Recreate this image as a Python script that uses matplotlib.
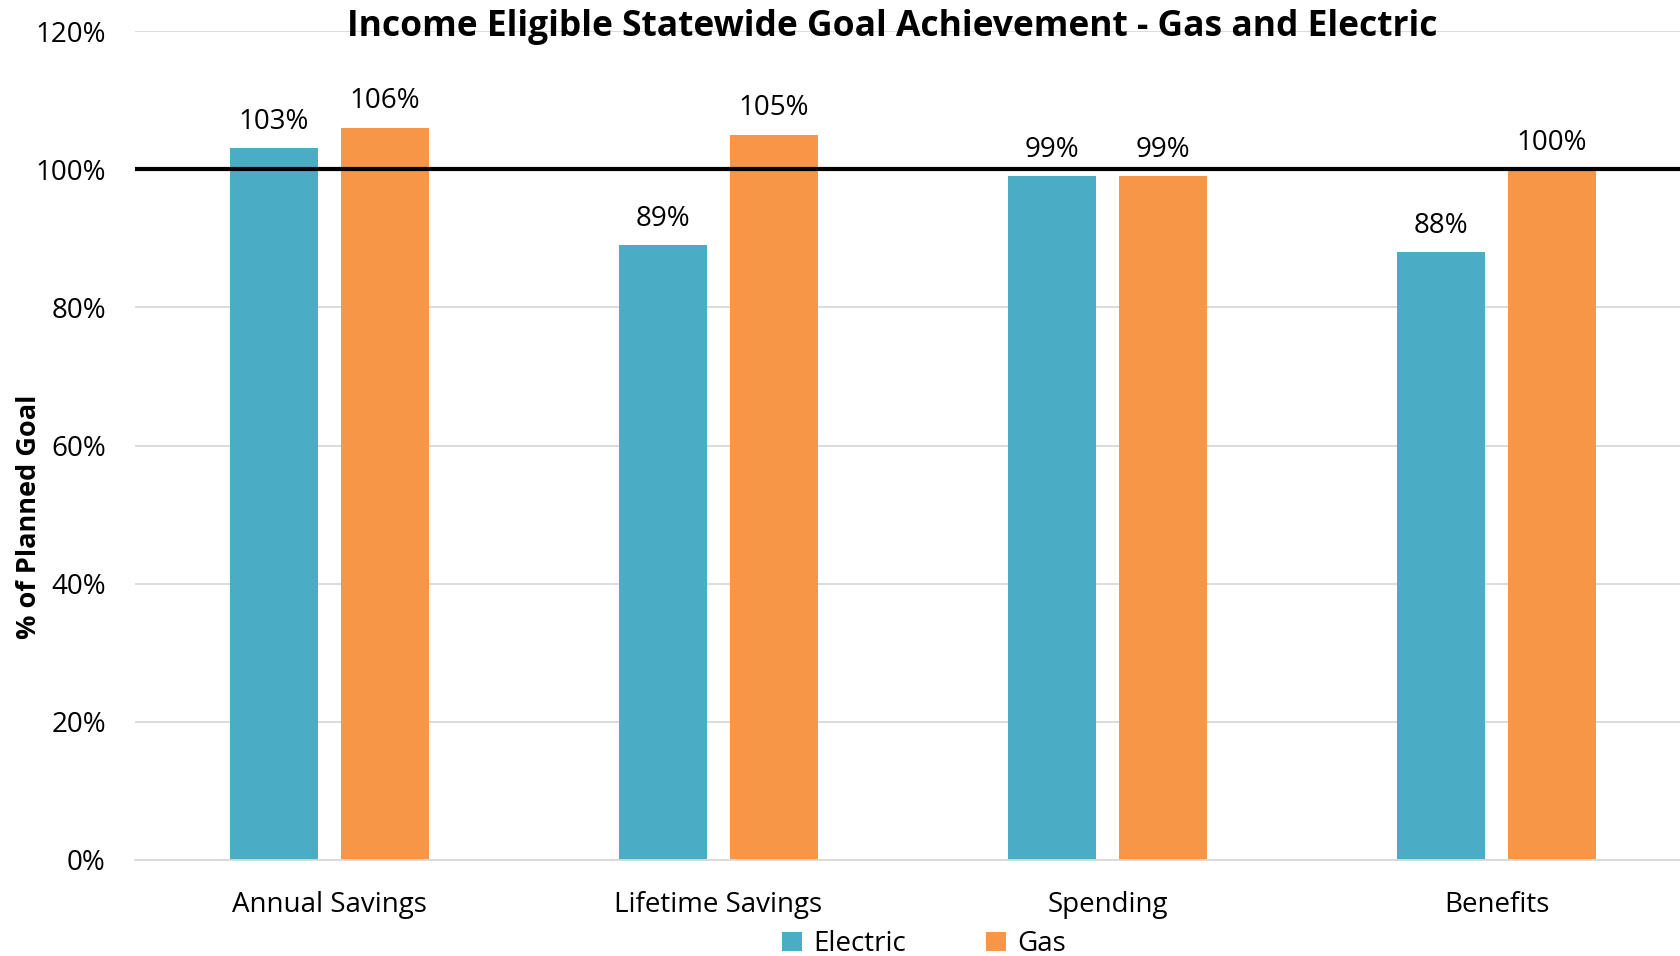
import numpy as np
import matplotlib
matplotlib.use('Agg')
import matplotlib.pyplot as plt

plt.rcParams['font.family'] = ['Open Sans', 'DejaVu Sans']

categories = ['Annual Savings', 'Lifetime Savings', 'Spending', 'Benefits']
electric = [103, 89, 99, 88]
gas = [106, 105, 99, 100]
yticks = [0, 20, 40, 60, 80, 100, 120]

blue = '#4BACC6'
orange = '#F79646'

fig = plt.figure(figsize=(16.8, 9.56), dpi=100)
ax = fig.add_axes([135 / 1680, 1 - 860 / 956, 1556 / 1680, 829 / 956])

x = np.arange(len(categories))
w = 0.226
off = 0.143
b1 = ax.bar(x - off, electric, w, color=blue, label='Electric', zorder=2)
b2 = ax.bar(x + off, gas, w, color=orange, label='Gas', zorder=2)

for bars, vals in [(b1, electric), (b2, gas)]:
    for b, v in zip(bars, vals):
        ax.annotate('%d%%' % v, (b.get_x() + b.get_width() / 2, v),
                    xytext=(0, 9), textcoords='offset points',
                    ha='center', va='bottom', fontsize=20)

ax.axhline(100, color='black', linewidth=3, zorder=3)

ax.set_xlim(-0.5, 3.5)
ax.set_ylim(0, 120)
ax.set_yticks(yticks)
ax.set_yticklabels(['%d%%' % t for t in yticks], fontsize=20)
ax.set_xticks(x)
ax.set_xticklabels(categories, fontsize=20)
ax.tick_params(axis='both', length=0)
ax.tick_params(axis='y', pad=21)
ax.tick_params(axis='x', pad=22)
ax.grid(axis='y', color='#D9D9D9', linewidth=1.3, zorder=0)
for s in ax.spines.values():
    s.set_visible(False)
ax.spines['bottom'].set_visible(True)
ax.spines['bottom'].set_color('#D9D9D9')
ax.spines['bottom'].set_linewidth(1.3)

fig.text(892 / 1680, 1 - 27 / 956, 'Income Eligible Statewide Goal Achievement - Gas and Electric',
         ha='center', va='center', fontsize=25.5, fontweight='bold')
fig.text(29 / 1680, 1 - 517 / 956, '% of Planned Goal', rotation=90,
         ha='center', va='center', fontsize=19.5, fontweight='bold')

fig.legend(loc='center', bbox_to_anchor=(0.55, 1 - 944 / 956), ncol=2,
           frameon=False, fontsize=20, handlelength=0.7, handleheight=0.7,
           columnspacing=2.9, handletextpad=0.4)

fig.savefig('out.png', dpi=100)
